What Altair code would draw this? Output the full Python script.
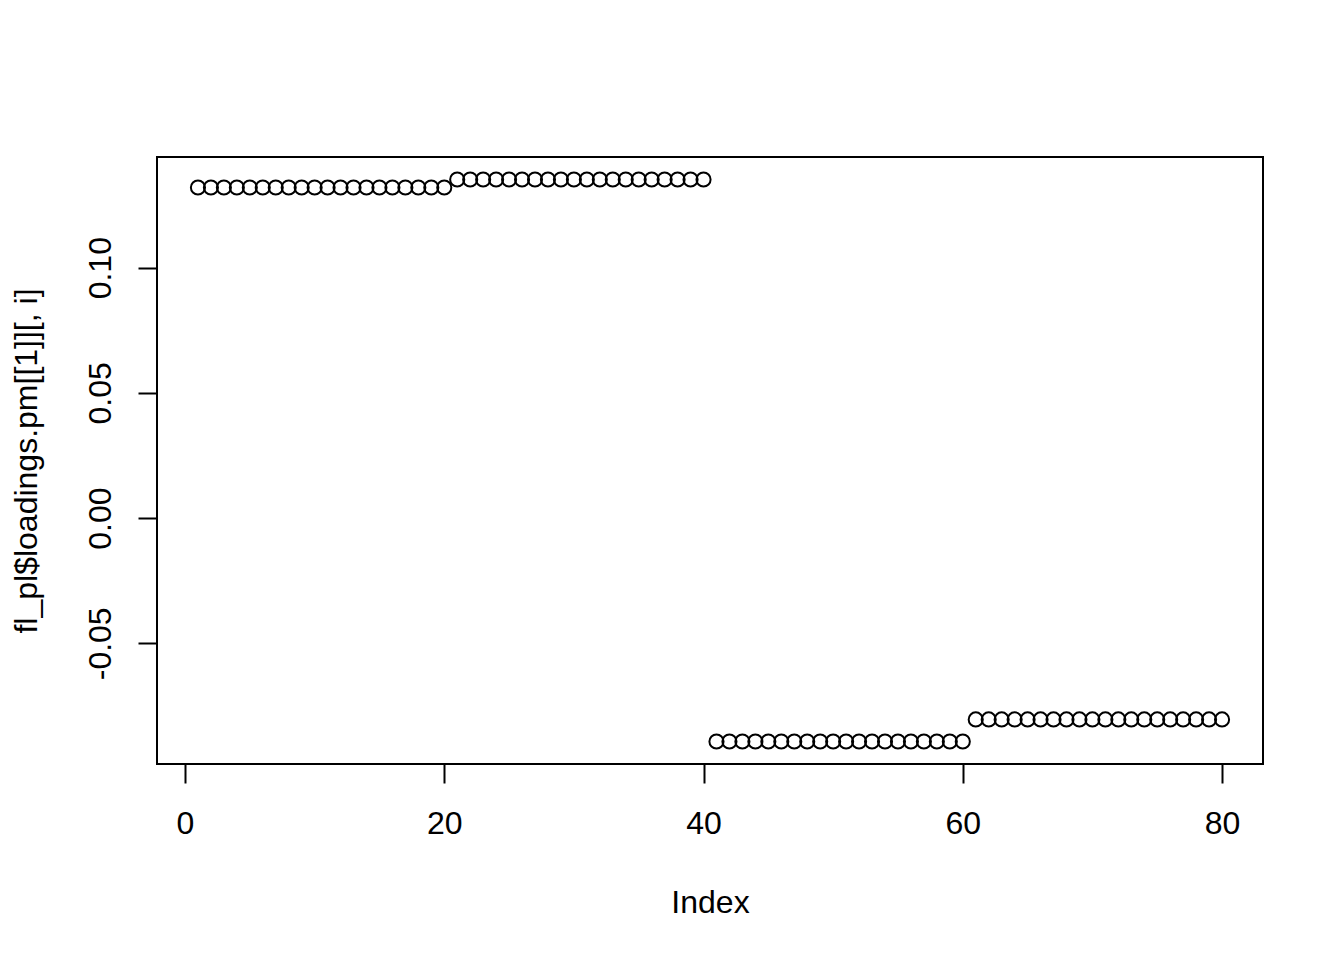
import altair as alt
import pandas as pd

index = list(range(1, 81))
values = (
    [0.132, 0.132, 0.132, 0.132, 0.132, 0.132, 0.132, 0.132, 0.132, 0.132,
     0.132, 0.132, 0.132, 0.132, 0.132, 0.132, 0.132, 0.132, 0.132, 0.132]
    + [0.1352, 0.1352, 0.1352, 0.1352, 0.1352, 0.1352, 0.1352, 0.1352, 0.1352, 0.1352,
       0.1352, 0.1352, 0.1352, 0.1352, 0.1352, 0.1352, 0.1352, 0.1352, 0.1352, 0.1352]
    + [-0.0892, -0.0892, -0.0892, -0.0892, -0.0892, -0.0892, -0.0892, -0.0892, -0.0892, -0.0892,
       -0.0892, -0.0892, -0.0892, -0.0892, -0.0892, -0.0892, -0.0892, -0.0892, -0.0892, -0.0892]
    + [-0.0804, -0.0804, -0.0804, -0.0804, -0.0804, -0.0804, -0.0804, -0.0804, -0.0804, -0.0804,
       -0.0804, -0.0804, -0.0804, -0.0804, -0.0804, -0.0804, -0.0804, -0.0804, -0.0804, -0.0804]
)
x_ticks = [0, 20, 40, 60, 80]
y_ticks = [-0.05, 0.0, 0.05, 0.10]
x_title = "Index"
y_title = "fl_pl$loadings.pm[[1]][, i]"

W, H = 1106, 607
FONT = "Liberation Sans"
FS = 32

df = pd.DataFrame({"Index": index, "value": values})

xs = alt.Scale(domain=[-2.16, 83.16], nice=False, zero=False)
ys = alt.Scale(domain=[-0.0982, 0.1442], nice=False, zero=False)

common = dict(
    domain=False, grid=False, tickSize=19, tickWidth=2, tickColor="black",
    labelFontSize=FS, labelFont=FONT, labelColor="black", labelFlush=False,
    labelOverlap=False, labelBaseline="alphabetic",
    titleFont=FONT, titleFontSize=FS, titleFontWeight="normal",
    titleColor="black", titleBaseline="alphabetic", titleAlign="center",
)

points = alt.Chart(df).mark_point(
    shape="circle", filled=False, stroke="black", strokeWidth=2, size=200, opacity=1
).encode(
    x=alt.X("Index:Q", scale=xs, axis=alt.Axis(
        values=x_ticks, title=x_title, labelPadding=50,
        titleX=W / 2, titleY=148, **common)),
    y=alt.Y("value:Q", scale=ys, axis=alt.Axis(
        values=y_ticks, title=y_title,
        labelAngle=270, labelAlign="center", labelPadding=28,
        labelExpr="replace(format(datum.value, '.2f'), '\u2212', '-')",
        titleAngle=270, titleX=-121, titleY=H / 2, **common)),
)

chart = points.properties(
    width=W, height=H,
    autosize=alt.AutoSizeParams(type="none"),
    padding={"left": 149, "top": 149, "right": 73, "bottom": 180},
    background="white",
).configure_view(stroke="black", strokeWidth=2)

chart.save("out.html", embed_options={"renderer": "svg", "actions": False})
